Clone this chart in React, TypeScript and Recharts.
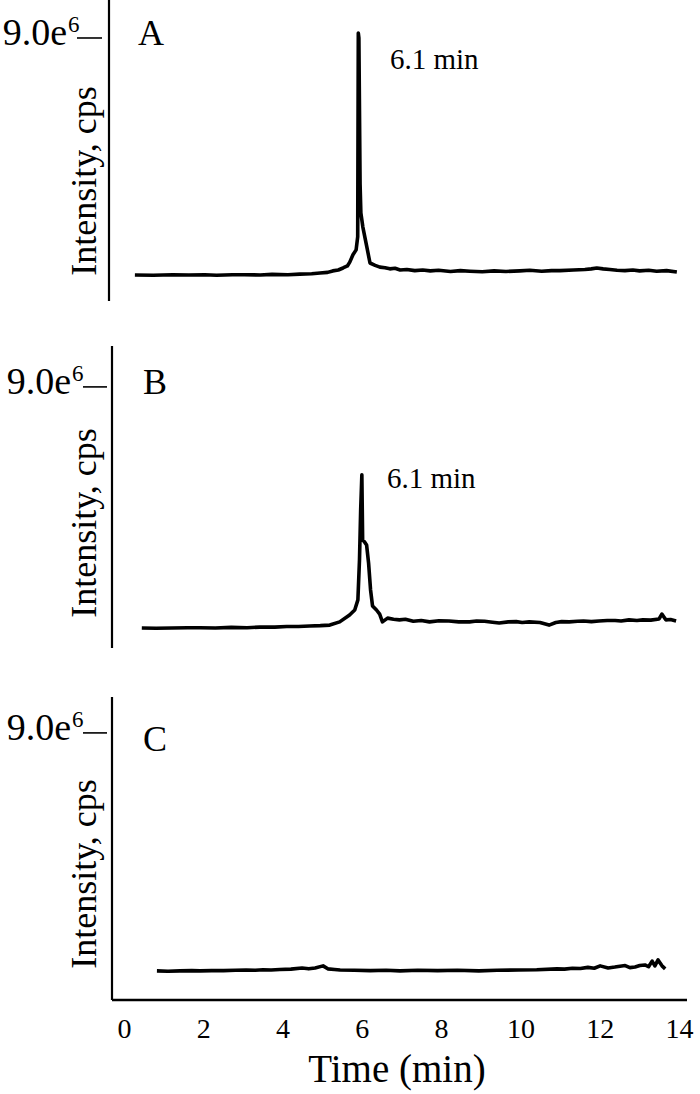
import React from 'react';
import { LineChart, Line, XAxis, YAxis, Customized } from 'recharts';

const FONT = '"Liberation Serif", "Times New Roman", Times, serif';

// Time (min)
const timeA = [0.34, 0.8, 1.3, 1.7, 2.1, 2.4, 2.8, 3.1, 3.5, 3.8, 4.2, 4.5, 4.8, 5.01, 5.2, 5.33, 5.47, 5.59, 5.7, 5.76, 5.84, 5.92, 5.96, 5.975, 5.99, 6.02, 6.04, 6.09, 6.19, 6.27, 6.4, 6.52, 6.65, 6.77, 6.9, 7.03, 7.2, 7.4, 7.6, 7.79, 8.0, 8.3, 8.55, 8.79, 9.1, 9.4, 9.7, 10.05, 10.3, 10.6, 10.85, 11.06, 11.4, 11.69, 11.85, 11.99, 12.15, 12.32, 12.5, 12.7, 12.9, 13.07, 13.3, 13.5, 13.75, 14.01];
// Intensity (x 1e6 cps)
const intensityA = [0.89, 0.88, 0.9, 0.89, 0.9, 0.88, 0.9, 0.9, 0.89, 0.91, 0.9, 0.92, 0.93, 0.96, 0.98, 1.03, 1.06, 1.13, 1.2, 1.33, 1.58, 1.75, 2.2, 9.17, 9.0, 4.0, 3.01, 2.53, 1.85, 1.3, 1.22, 1.16, 1.14, 1.1, 1.12, 1.06, 1.08, 1.04, 1.06, 1.03, 1.05, 1.01, 1.04, 1.02, 1.0, 1.03, 1.01, 1.03, 1.05, 1.02, 1.04, 1.04, 1.06, 1.08, 1.1, 1.13, 1.1, 1.08, 1.05, 1.04, 1.06, 1.03, 1.05, 1.02, 1.04, 0.99];

const timeB = [0.44, 0.8, 1.2, 1.6, 1.91, 2.3, 2.7, 3.1, 3.42, 3.8, 4.1, 4.4, 4.68, 4.95, 5.19, 5.44, 5.69, 5.82, 5.9, 5.94, 5.97, 6.0, 6.02, 6.07, 6.12, 6.17, 6.22, 6.27, 6.37, 6.45, 6.52, 6.65, 6.8, 6.95, 7.1, 7.3, 7.5, 7.71, 7.95, 8.2, 8.45, 8.72, 8.9, 9.1, 9.3, 9.47, 9.7, 9.9, 10.05, 10.23, 10.5, 10.73, 10.9, 11.05, 11.24, 11.45, 11.6, 11.8, 11.99, 12.2, 12.4, 12.55, 12.75, 12.95, 13.1, 13.3, 13.51, 13.58, 13.68, 13.8, 13.94];
const intensityB = [0.69, 0.68, 0.69, 0.7, 0.7, 0.69, 0.71, 0.7, 0.72, 0.72, 0.74, 0.74, 0.76, 0.77, 0.79, 0.9, 1.14, 1.31, 1.66, 3.03, 4.76, 5.97, 3.72, 3.65, 3.55, 2.93, 2.0, 1.45, 1.31, 1.17, 0.9, 1.03, 0.99, 0.97, 0.99, 0.92, 0.95, 0.9, 0.94, 0.93, 0.9, 0.9, 0.93, 0.92, 0.89, 0.86, 0.9, 0.91, 0.88, 0.9, 0.88, 0.79, 0.88, 0.91, 0.9, 0.92, 0.93, 0.91, 0.93, 0.95, 0.95, 0.93, 0.97, 0.95, 0.97, 0.96, 1.0, 1.17, 0.97, 0.98, 0.93];

const timeC = [0.82, 1.1, 1.4, 1.7, 1.91, 2.2, 2.5, 2.8, 3.07, 3.3, 3.5, 3.7, 3.92, 4.2, 4.48, 4.65, 4.81, 5.01, 5.13, 5.3, 5.44, 5.8, 6.2, 6.6, 6.95, 7.4, 7.9, 8.4, 8.94, 9.4, 9.93, 10.4, 10.91, 11.1, 11.3, 11.5, 11.69, 11.85, 12.0, 12.2, 12.37, 12.5, 12.63, 12.75, 12.88, 13.0, 13.13, 13.22, 13.31, 13.38, 13.46, 13.56, 13.64];
const intensityC = [0.98, 0.97, 0.98, 0.99, 0.98, 0.99, 0.99, 1.0, 1.01, 1.0, 1.02, 1.01, 1.03, 1.04, 1.08, 1.05, 1.08, 1.15, 1.05, 1.03, 1.01, 1.0, 0.99, 1.0, 0.98, 1.0, 0.99, 1.0, 0.98, 1.0, 1.01, 1.02, 1.05, 1.04, 1.07, 1.06, 1.1, 1.07, 1.15, 1.08, 1.11, 1.14, 1.16, 1.09, 1.11, 1.16, 1.18, 1.12, 1.31, 1.15, 1.35, 1.15, 1.05];

const xTicks = [0, 2, 4, 6, 8, 10, 12, 14];
const yTickValue = 9; // 9.0e6
const panelLetters = ['A', 'B', 'C'];
const peakLabel = '6.1 min';
const yLabel = 'Intensity, cps';
const xLabel = 'Time (min)';

const build = (t: number[], v: number[]) => t.map((x, i) => ({ t: x, v: v[i] }));
const dataA = build(timeA, intensityA);
const dataB = build(timeB, intensityB);
const dataC = build(timeC, intensityC);

const X_DOMAIN: [number, number] = [-0.313, 14.19];

type PanelProps = {
  data: { t: number; v: number }[];
  top: number;
  height: number;
  marginTop: number;
  marginBottom: number;
  marginRight: number;
  yAxisWidth: number;
  yMax: number;
  letter: string;
  textRight: number;
  dashL: number;
  dashR: number;
  letterX: number;
  yLabelCY: number; // chart-relative
  peak?: { x: number; y: number };
  showX?: boolean;
};

function Panel(p: PanelProps) {
  const renderYTick = (props: any) => {
    const y = props.y;
    return (
      <g>
        <text x={p.textRight} y={y + 7} textAnchor="end" fontSize={38} fontFamily={FONT} fill="#000">9.0e</text>
        <text x={p.textRight + 1} y={y - 6} fontSize={23} fontFamily={FONT} fill="#000">6</text>
        <line x1={p.dashL} x2={p.dashR} y1={y} y2={y} stroke="#000" strokeWidth={1.6} />
      </g>
    );
  };
  const renderXTick = (props: any) => (
    <text x={props.x} y={348} textAnchor="middle" fontSize={28} fontFamily={FONT} fill="#000">
      {props.payload.value}
    </text>
  );
  const Annot = () => (
    <g fontFamily={FONT} fill="#000">
      <text x={p.letterX} y={p.marginTop + (p.height - p.marginTop - p.marginBottom) * (1 - yTickValue / p.yMax) + 7} fontSize={36}>{p.letter}</text>
      <text
        x={96}
        y={p.yLabelCY}
        fontSize={36}
        textAnchor="middle"
        transform={`rotate(-90, 96, ${p.yLabelCY})`}
      >
        {yLabel}
      </text>
      {p.peak && (
        <text x={p.peak.x} y={p.peak.y} fontSize={29}>{peakLabel}</text>
      )}
      {p.showX && (
        <text x={397} y={392} fontSize={39} textAnchor="middle">{xLabel}</text>
      )}
    </g>
  );
  return (
    <div style={{ position: 'absolute', left: 0, top: p.top, width: 700, height: p.height }}>
      <LineChart
        width={700}
        height={p.height}
        data={p.data}
        margin={{ top: p.marginTop, right: p.marginRight, bottom: p.marginBottom, left: 0 }}
      >
        <XAxis
          dataKey="t"
          type="number"
          domain={X_DOMAIN}
          allowDataOverflow
          ticks={p.showX ? xTicks : []}
          interval={0}
          tick={p.showX ? renderXTick : false}
          tickLine={false}
          height={p.showX ? 94 : 0}
          axisLine={{ stroke: '#000', strokeWidth: 2.5 }}
        />
        <YAxis
          type="number"
          domain={[0, p.yMax]}
          allowDataOverflow
          ticks={[yTickValue]}
          interval={0}
          width={p.yAxisWidth}
          tick={renderYTick}
          tickLine={false}
          axisLine={{ stroke: '#000', strokeWidth: 2.2 }}
        />
        <Line
          type="linear"
          dataKey="v"
          stroke="#000"
          strokeWidth={3.6}
          dot={false}
          isAnimationActive={false}
          strokeLinejoin="round"
        />
        <Customized component={Annot} />
      </LineChart>
    </div>
  );
}

export default function App() {
  return (
    <div style={{ position: 'absolute', left: 0, top: 0, width: 700, height: 1094, background: '#fff' }}>
      <Panel
        data={dataA}
        top={0}
        height={310}
        marginTop={0}
        marginBottom={9}
        marginRight={16}
        yAxisWidth={109}
        yMax={10.3}
        letter={panelLetters[0]}
        textRight={67}
        dashL={77}
        dashR={102}
        letterX={138}
        yLabelCY={181}
        peak={{ x: 390, y: 69 }}
      />
      <Panel
        data={dataB}
        top={340}
        height={320}
        marginTop={6}
        marginBottom={12}
        marginRight={14}
        yAxisWidth={112}
        yMax={10.41}
        letter={panelLetters[1]}
        textRight={71}
        dashL={83}
        dashR={107}
        letterX={143}
        yLabelCY={183}
        peak={{ x: 387, y: 148 }}
      />
      <Panel
        data={dataC}
        top={690}
        height={404}
        marginTop={7}
        marginBottom={0}
        marginRight={13}
        yAxisWidth={112}
        yMax={10.21}
        letter={panelLetters[2]}
        textRight={71}
        dashL={83}
        dashR={107}
        letterX={143}
        yLabelCY={184}
        showX
      />
    </div>
  );
}
